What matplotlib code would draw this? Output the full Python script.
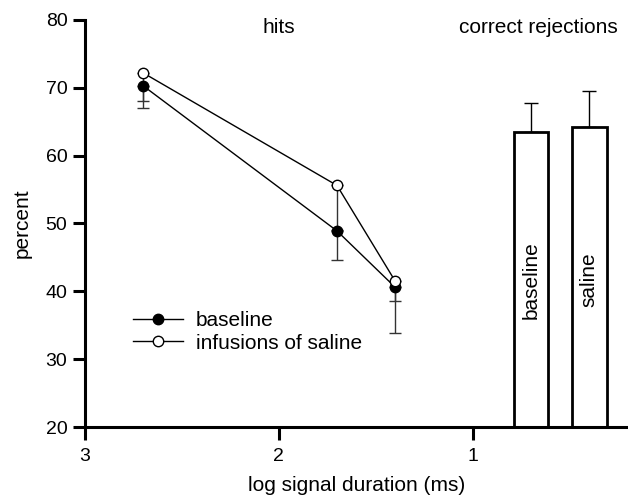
import numpy as np
import matplotlib.pyplot as plt

plt.rcParams.update({
    "font.family": ["Liberation Sans", "DejaVu Sans"],
    "font.size": 15,
    "axes.linewidth": 2.2,
})

# Data
log_dur = [2.7, 1.7, 1.4]
hits_baseline = [70.3, 48.9, 40.6]
hits_baseline_err = [3.3, 4.3, 6.8]
hits_saline = [72.2, 55.6, 41.5]
hits_saline_err = [4.1, 6.6, 2.9]

bar_x = [0.7, 0.4]
bar_labels = ["baseline", "saline"]
cr_values = [63.5, 64.2]
cr_err = [4.3, 5.3]

fig = plt.figure(figsize=(6.28, 4.96), dpi=100)
ax = fig.add_axes([0.135, 0.139, 0.865, 0.821])

# error bars (downward only)
ax.errorbar(log_dur, hits_saline, yerr=[hits_saline_err, [0, 0, 0]],
            fmt="none", ecolor="#333333", elinewidth=1, capsize=4, capthick=1, zorder=2)
ax.errorbar(log_dur, hits_baseline, yerr=[hits_baseline_err, [0, 0, 0]],
            fmt="none", ecolor="#333333", elinewidth=1, capsize=4, capthick=1, zorder=2)

ax.plot(log_dur, hits_baseline, "-o", color="black", lw=1, ms=7.5,
        mfc="black", mec="black", zorder=3, label="baseline")
ax.plot(log_dur, hits_saline, "-o", color="black", lw=1, ms=7.5,
        mfc="white", mec="black", mew=1, zorder=4, label="infusions of saline")

# correct rejection bars
ax.bar(bar_x, cr_values, width=0.18, bottom=0, color="white",
       edgecolor="black", linewidth=2, zorder=2)
ax.errorbar(bar_x, cr_values, yerr=[[0, 0], cr_err], fmt="none",
            ecolor="black", elinewidth=1, capsize=5, capthick=1, zorder=1)
for bx, lab in zip(bar_x, bar_labels):
    ax.text(bx, 41.7, lab, rotation=90, ha="center", va="center", fontsize=15)

ax.text(2.0, 78.8, "hits", ha="center", va="center", fontsize=15)
ax.text(0.66, 78.8, "correct rejections", ha="center", va="center", fontsize=15)

ax.set_xlim(3, 0.2)
ax.set_ylim(20, 80)
ax.set_xticks([3, 2, 1])
ax.set_yticks([20, 30, 40, 50, 60, 70, 80])
ax.spines["top"].set_visible(False)
ax.spines["right"].set_visible(False)
ax.tick_params(axis="both", direction="out", width=2.2, length=9, labelsize=14)
ax.tick_params(axis="x", pad=6)

ax.set_xlabel("log signal duration (ms)", fontsize=15, labelpad=8)
ax.set_ylabel("percent", fontsize=15, labelpad=10)

ax.legend(loc="upper left", bbox_to_anchor=(0.055, 0.33), frameon=False,
          handlelength=2.4, handletextpad=0.6, labelspacing=0.15, fontsize=15)

fig.savefig("out.png", dpi=100)
